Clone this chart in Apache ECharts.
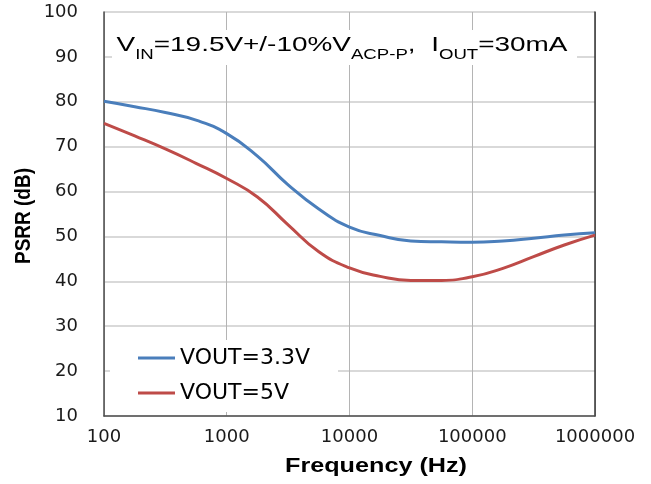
<!DOCTYPE html>
<html>
<head>
<meta charset="utf-8">
<script src="https://cdn.jsdelivr.net/npm/echarts@6/dist/echarts.min.js"></script>
<style>html,body{margin:0;padding:0;background:#fff;}#c{width:651px;height:484px;}</style>
</head>
<body>
<div id="c"></div>
<script>
// ---- data ----
var freqHz = [100, 178, 316, 562, 1000, 1778, 3162, 5623, 10000, 17783, 31623, 56234, 100000, 177828, 316228, 562341, 1000000];
var psrrVout33 = [80.1, 78.9, 77.6, 75.9, 72.9, 67.9, 61.5, 56.1, 52.1, 50.2, 49.0, 48.8, 48.7, 49.0, 49.6, 50.3, 50.8];
var psrrVout5  = [75.2, 72.4, 69.5, 66.3, 62.9, 58.8, 52.6, 46.6, 43.0, 41.1, 40.2, 40.2, 41.0, 42.9, 45.5, 48.1, 50.3];
var seriesNames = ['VOUT=3.3V', 'VOUT=5V'];
var xTickLabels = ['100', '1000', '10000', '100000', '1000000'];
var yTickLabels = ['10', '20', '30', '40', '50', '60', '70', '80', '90', '100'];
var xTitle = 'Frequency (Hz)';
var yTitle = 'PSRR (dB)';

function pairs(xs, ys) { return xs.map(function (x, i) { return [x, ys[i]]; }); }

var chart = echarts.init(document.getElementById('c'), null, {renderer: 'canvas'});
var labelFont = {fontFamily: 'DejaVu Sans', fontSize: 18, color: '#1a1a1a'};
var option = {
  animation: false,
  backgroundColor: '#ffffff',
  grid: {left: 104, top: 12, right: 56, bottom: 68, containLabel: false},
  xAxis: {
    type: 'log', logBase: 10, min: 100, max: 1000000,
    axisLine: {show: true, lineStyle: {color: '#4d4d4d', width: 1.5}},
    axisTick: {show: false},
    splitLine: {show: true, lineStyle: {color: '#b4b4b4', width: 1}},
    axisLabel: Object.assign({margin: 12, formatter: function (v) {
      var i = Math.round(Math.log10(v)) - 2; return xTickLabels[i] || '';
    }}, labelFont)
  },
  yAxis: [{
    type: 'value', min: 10, max: 100, interval: 10,
    axisLine: {show: true, lineStyle: {color: '#4d4d4d', width: 1.5}},
    axisTick: {show: false},
    splitLine: {show: true, lineStyle: {color: '#cccccc', width: 1.5}},
    axisLabel: Object.assign({margin: 26, formatter: function (v) {
      var i = Math.round((v - 10) / 10); return yTickLabels[i] || '';
    }}, labelFont)
  }, {
    type: 'value', min: 10, max: 100, interval: 10, position: 'right',
    axisLine: {show: true, lineStyle: {color: '#333333', width: 1.5}},
    axisTick: {show: false}, axisLabel: {show: false}, splitLine: {show: false}
  }],
  legend: {
    orient: 'vertical', left: 110, top: 340,
    padding: [7, 28, 8, 28],
    backgroundColor: '#ffffff',
    itemGap: 13, itemWidth: 37, itemHeight: 3,
    icon: 'rect',
    textStyle: {fontFamily: 'DejaVu Sans', fontSize: 22, color: '#000'},
    data: seriesNames
  },
  series: [{
    name: seriesNames[0], type: 'line', smooth: 0.5, showSymbol: false,
    color: '#4a7ebb', lineStyle: {width: 3, color: '#4a7ebb'},
    data: pairs(freqHz, psrrVout33)
  }, {
    name: seriesNames[1], type: 'line', smooth: 0.5, showSymbol: false,
    color: '#be4b48', lineStyle: {width: 3, color: '#be4b48'},
    data: pairs(freqHz, psrrVout5)
  }],
  graphic: [
    {type: 'rect', z: 50, shape: {x: 112, y: 30, width: 465, height: 35}, style: {fill: '#ffffff'}},
    {type: 'text', z: 51, x: 116.5, y: 35, scaleX: 1.33,
     style: {
       text: '{m|V}{s|IN}{m|=19.5V+/-10%V}{s|ACP-P}{m|,  I}{s|OUT}{m|=30mA}',
       textVerticalAlign: 'top', textAlign: 'left',
       rich: {
         m: {fontFamily: 'Liberation Sans', fontSize: 21, lineHeight: 24, verticalAlign: 'top', fill: '#000'},
         s: {fontFamily: 'Liberation Sans', fontSize: 14, lineHeight: 14, verticalAlign: 'top', padding: [13, 0, 0, 0], fill: '#000'}
       }
     }},
    {type: 'text', z: 51, x: 376, y: 466, scaleX: 1.2,
     style: {text: xTitle, fontFamily: 'Liberation Sans', fontWeight: 'bold', fontSize: 21,
             textAlign: 'center', textVerticalAlign: 'middle', fill: '#000'}},
    {type: 'text', z: 51, x: 24, y: 216, rotation: Math.PI / 2, scaleY: 1.2,
     style: {text: yTitle, fontFamily: 'Liberation Sans', fontWeight: 'bold', fontSize: 19,
             textAlign: 'center', textVerticalAlign: 'middle', fill: '#000'}}
  ]
};
chart.setOption(option);
</script>
</body>
</html>
